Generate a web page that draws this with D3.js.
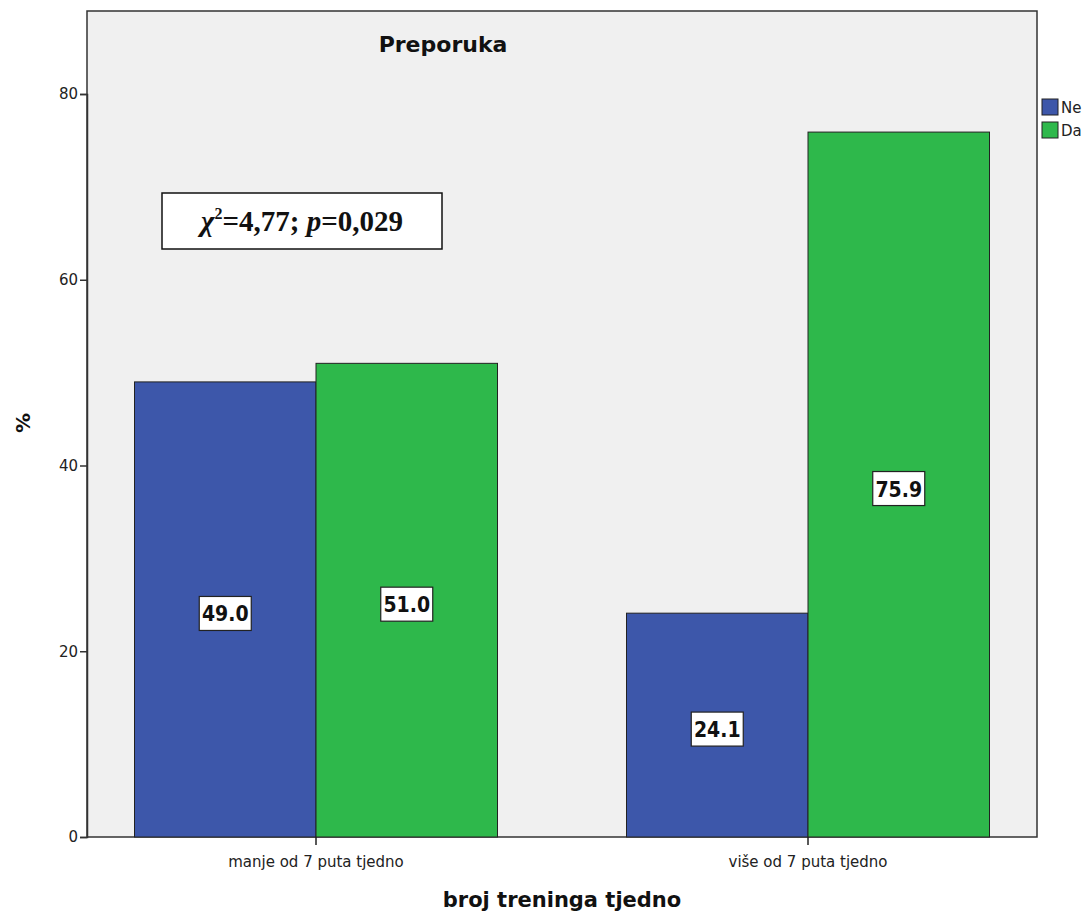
<!DOCTYPE html>
<html><head><meta charset="utf-8">
<script src="https://cdn.jsdelivr.net/npm/d3@7"></script>
<style>body{margin:0;background:#fff}</style>
</head><body>
<svg id="c" width="1088" height="917"></svg>
<script>
const categories = ["manje od 7 puta tjedno", "više od 7 puta tjedno"];
const seriesNames = ["Ne", "Da"];
const neValues = [49.0, 24.1];
const daValues = [51.0, 75.9];
const yTicks = [0, 20, 40, 60, 80];
const colors = ["#3d57aa", "#2eb84b"];

const svg = d3.select("#c");
const L = 87, R = 1037, T = 11, B = 837;
const y = d3.scaleLinear().domain([0, 80]).range([B, 94]);
const x1 = d3.scaleBand().domain(seriesNames).range([0, 363]);
const center = c => (c === categories[0] ? 316 : 808);
const sans = "'DejaVu Sans', Verdana, sans-serif";

svg.append("rect").attr("x", L).attr("y", T).attr("width", R - L).attr("height", B - T)
  .attr("fill", "#f0f0f0").attr("stroke", "#333").attr("stroke-width", 1.5);

const data = categories.map((c, i) => ({cat: c, vals: [neValues[i], daValues[i]]}));

data.forEach(d => {
  d.vals.forEach((v, j) => {
    const bx = center(d.cat) - 181.5 + x1(seriesNames[j]);
    const bw = x1.bandwidth();
    svg.append("rect").attr("x", bx).attr("y", y(v)).attr("width", bw).attr("height", B - y(v))
      .attr("fill", colors[j]).attr("stroke", "#222").attr("stroke-width", 1);
    const cy = (y(v) + B) / 2 + 4;
    const cx = bx + bw / 2;
    svg.append("rect").attr("x", cx - 26).attr("y", cy - 17).attr("width", 52).attr("height", 34)
      .attr("fill", "#fff").attr("stroke", "#222").attr("stroke-width", 1.2);
    svg.append("text").attr("x", cx).attr("y", cy + 8).attr("text-anchor", "middle")
      .attr("font-family", "'DejaVu Sans Condensed', 'DejaVu Sans', sans-serif").attr("font-stretch", "condensed")
      .attr("font-weight", "bold").attr("font-size", 21).attr("fill", "#111").text(v.toFixed(1));
  });
});

const yAxis = svg.append("g").attr("transform", `translate(${L},0)`)
  .call(d3.axisLeft(y).tickValues(yTicks).tickSize(7).tickPadding(2));
yAxis.select(".domain").attr("stroke", "#333").attr("stroke-width", 1.5);
yAxis.selectAll(".tick line").attr("stroke", "#333").attr("stroke-width", 1.5);
yAxis.selectAll("text").attr("font-family", sans).attr("font-size", 15).attr("fill", "#222");

const xg = svg.append("g").attr("transform", `translate(0,${B})`);
categories.forEach(c => {
  xg.append("line").attr("x1", center(c)).attr("x2", center(c)).attr("y1", 0).attr("y2", 8).attr("stroke", "#222").attr("stroke-width", 1.5);
  xg.append("text").attr("x", center(c)).attr("y", 30).attr("text-anchor", "middle")
    .attr("font-family", sans).attr("font-size", 15).attr("fill", "#222").text(c);
});

svg.append("text").attr("x", 443).attr("y", 52).attr("text-anchor", "middle")
  .attr("font-family", sans).attr("font-weight", "bold").attr("font-size", 22).attr("fill", "#111").text("Preporuka");
svg.append("text").attr("x", 562).attr("y", 907).attr("text-anchor", "middle")
  .attr("font-family", sans).attr("font-weight", "bold").attr("font-size", 21).attr("fill", "#111").text("broj treninga tjedno");
svg.append("text").attr("transform", "translate(30,423) rotate(-90)").attr("text-anchor", "middle")
  .attr("font-family", sans).attr("font-weight", "bold").attr("font-size", 20).attr("fill", "#111").text("%");

svg.append("rect").attr("x", 162).attr("y", 193).attr("width", 280).attr("height", 56)
  .attr("fill", "#fff").attr("stroke", "#111").attr("stroke-width", 1.5);
const st = svg.append("text").attr("x", 302).attr("y", 231).attr("text-anchor", "middle")
  .attr("font-family", "'Liberation Serif', 'Times New Roman', serif").attr("font-weight", "bold").attr("font-size", 29).attr("fill", "#111");
st.append("tspan").attr("font-style", "italic").text("χ");
st.append("tspan").attr("font-size", 16).attr("dy", -12).text("2");
st.append("tspan").attr("dy", 12).text("=4,77; ");
st.append("tspan").attr("font-style", "italic").text("p");
st.append("tspan").text("=0,029");

seriesNames.forEach((s, i) => {
  svg.append("rect").attr("x", 1042).attr("y", 99 + i * 23).attr("width", 16).attr("height", 16)
    .attr("fill", colors[i]).attr("stroke", "#222").attr("stroke-width", 1);
  svg.append("text").attr("x", 1061).attr("y", 113 + i * 23)
    .attr("font-family", sans).attr("font-size", 15).attr("fill", "#222").text(s);
});
</script>
</body></html>
